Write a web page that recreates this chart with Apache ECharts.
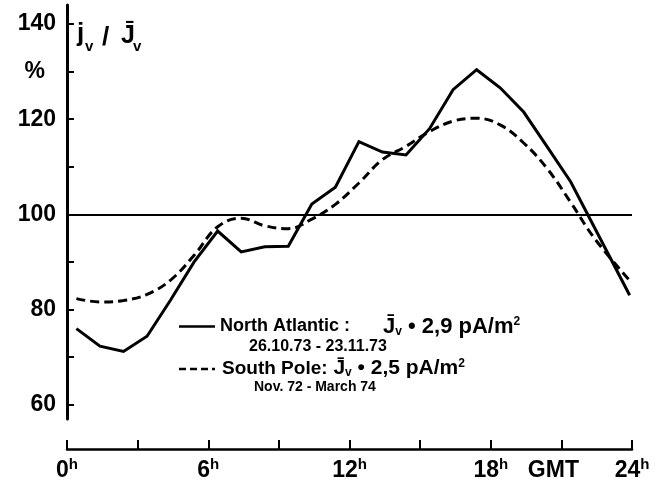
<!DOCTYPE html>
<html>
<head>
<meta charset="utf-8">
<script src="https://cdn.jsdelivr.net/npm/echarts@6/dist/echarts.min.js"></script>
<style>
  html, body { margin: 0; padding: 0; background: #fff; }
  #chart { width: 660px; height: 485px; }
</style>
</head>
<body>
<div id="chart"></div>
<script>
// hour of day (GMT) at which each hourly mean is plotted
const hours = [0.4, 1.4, 2.4, 3.4, 4.4, 5.4, 6.4, 7.4, 8.4, 9.4, 10.4, 11.4,
  12.4, 13.4, 14.4, 15.4, 16.4, 17.4, 18.4, 19.4, 20.4, 21.4, 22.4, 23.9];
// jv / mean jv in %
const northAtlantic = [76.0, 72.3, 71.2, 74.4, 82.0, 90.0, 96.5, 92.1, 93.2, 93.3, 102.2, 105.7,
  115.3, 113.1, 112.5, 118.0, 126.2, 130.4, 126.6, 121.5, 114.2, 106.8, 97.3, 83.0];
const southPole = [82.3, 81.6, 81.9, 83.2, 86.2, 91.4, 97.4, 99.2, 97.6, 97.0, 99.0, 102.1,
  106.6, 111.5, 114.3, 117.4, 119.6, 120.2, 118.8, 115.0, 109.6, 102.5, 95.0, 86.1];
const yTicks = [60, 70, 80, 90, 100, 110, 120, 130, 140];
const yLabels = [60, 80, 100, 120, 130, 140];
const xTicks = [0, 3, 6, 9, 12, 15, 18, 21, 24];
const xLabels = [0, 6, 12, 18, 21, 24];

const FONT = '"Liberation Sans", Arial, sans-serif';

const myChart = echarts.init(document.getElementById('chart'));

const option = {
  animation: false,
  backgroundColor: '#fff',
  grid: { left: 67, right: 28, top: 5, bottom: 66 },
  xAxis: {
    type: 'value',
    min: 0,
    max: 24,
    interval: 3,
    offset: 30,
    axisLine: { lineStyle: { color: '#000', width: 2.5 } },
    axisTick: { inside: true, length: 9, customValues: xTicks, lineStyle: { color: '#000', width: 2 } },
    splitLine: { show: false },
    axisLabel: {
      customValues: xLabels,
      margin: 8,
      formatter: (v) => (v === 21 ? '{g|GMT}' : '{n|' + v + '}{s|h}'),
      rich: {
        n: { fontFamily: FONT, fontWeight: 'bold', fontSize: 23, color: '#000', lineHeight: 28 },
        s: { fontFamily: FONT, fontWeight: 'bold', fontSize: 15, color: '#000', verticalAlign: 'top', lineHeight: 15 },
        g: { fontFamily: FONT, fontWeight: 'bold', fontSize: 23, color: '#000', lineHeight: 28, padding: [0, 16, 0, 0] }
      }
    }
  },
  yAxis: {
    type: 'value',
    min: 57,
    max: 144,
    offset: 4,
    axisLine: { show: true, lineStyle: { color: '#000', width: 3 } },
    axisTick: { show: true, inside: true, length: 7, customValues: yTicks, lineStyle: { color: '#000', width: 2 } },
    splitLine: { show: false },
    axisLabel: {
      customValues: yLabels,
      margin: 7,
      formatter: (v) => (v === 130 ? '{p|%}' : '{n|' + v + '}'),
      rich: {
        n: { fontFamily: FONT, fontWeight: 'bold', fontSize: 23, color: '#000' },
        p: { fontFamily: FONT, fontWeight: 'bold', fontSize: 23, color: '#000', padding: [0, 11, 0, 0] }
      }
    }
  },
  graphic: [
    // y-axis title jv / Jv
    { type: 'text', x: 77, y: 47, style: { text: 'j', font: 'bold 26px ' + FONT, fill: '#000', textVerticalAlign: 'bottom' } },
    { type: 'text', x: 85, y: 54, style: { text: 'v', font: 'bold 15px ' + FONT, fill: '#000', textVerticalAlign: 'bottom' } },
    { type: 'text', x: 102, y: 51, style: { text: '/', font: 'bold 26px ' + FONT, fill: '#000', textVerticalAlign: 'bottom' } },
    { type: 'text', x: 121, y: 49, style: { text: 'J\u0304', font: 'bold 25px ' + FONT, fill: '#000', textVerticalAlign: 'bottom' } },
    { type: 'text', x: 133, y: 54, style: { text: 'v', font: 'bold 15px ' + FONT, fill: '#000', textVerticalAlign: 'bottom' } },

    // legend
    { type: 'line', shape: { x1: 179, y1: 326.5, x2: 215, y2: 326.5 }, style: { stroke: '#000', lineWidth: 2.5 } },
    {
      type: 'text', x: 220, y: 326.5,
      style: {
        text: '{t|North Atlantic :}{gap| }{f|J\u0304}{sub|v}{f| \u2022 2,9 pA/m}{sup|2}',
        textVerticalAlign: 'middle',
        rich: {
          t: { font: 'bold 18px ' + FONT, fill: '#000' },
          gap: { font: 'bold 18px ' + FONT, width: 33 },
          f: { font: 'bold 22px ' + FONT, fill: '#000' },
          sub: { font: 'bold 12px ' + FONT, fill: '#000', verticalAlign: 'bottom' },
          sup: { font: 'bold 12px ' + FONT, fill: '#000', verticalAlign: 'top' }
        }
      }
    },
    { type: 'text', x: 249, y: 347, style: { text: '26.10.73 - 23.11.73', font: 'bold 16px ' + FONT, fill: '#000', textVerticalAlign: 'middle' } },
    { type: 'line', shape: { x1: 179, y1: 369, x2: 215, y2: 369 }, style: { stroke: '#000', lineWidth: 2.5, lineDash: [7, 4] } },
    {
      type: 'text', x: 222, y: 368.5,
      style: {
        text: '{t|South Pole:}{f| J\u0304}{sub|v}{f| \u2022 2,5 pA/m}{sup|2}',
        textVerticalAlign: 'middle',
        rich: {
          t: { font: 'bold 19px ' + FONT, fill: '#000' },
          f: { font: 'bold 21px ' + FONT, fill: '#000' },
          sub: { font: 'bold 12px ' + FONT, fill: '#000', verticalAlign: 'bottom' },
          sup: { font: 'bold 12px ' + FONT, fill: '#000', verticalAlign: 'top' }
        }
      }
    },
    { type: 'text', x: 254, y: 387, style: { text: 'Nov. 72 - March 74', font: 'bold 14px ' + FONT, fill: '#000', textVerticalAlign: 'middle' } }
  ],
  series: [
    {
      name: 'North Atlantic',
      type: 'line',
      data: hours.map((h, i) => [h, northAtlantic[i]]),
      symbol: 'none',
      lineStyle: { color: '#000', width: 3, join: 'miter' },
      markLine: {
        silent: true,
        symbol: 'none',
        label: { show: false },
        lineStyle: { color: '#000', width: 2, type: 'solid' },
        data: [{ yAxis: 100 }]
      }
    },
    {
      name: 'South Pole',
      type: 'line',
      smooth: 0.4,
      data: hours.map((h, i) => [h, southPole[i]]),
      symbol: 'none',
      lineStyle: { color: '#000', width: 3, type: [9, 5] }
    }
  ]
};

option && myChart.setOption(option);
</script>
</body>
</html>
